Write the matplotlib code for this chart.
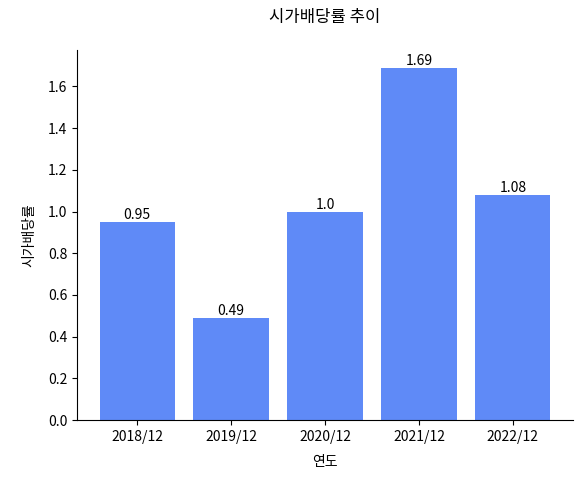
import matplotlib
matplotlib.use("Agg")
import matplotlib.pyplot as plt

plt.rcParams['font.family'] = ['Noto Sans CJK KR', 'DejaVu Sans']

years = ["2018/12", "2019/12", "2020/12", "2021/12", "2022/12"]
yields = [0.95, 0.49, 1.0, 1.69, 1.08]

fig = plt.figure(figsize=(5.82, 4.79), dpi=100)
ax = fig.add_axes([77 / 582, 59 / 479, 496 / 582, 370 / 479])

bars = ax.bar(years, yields, color='#5f8af7', width=0.8)
for b, v in zip(bars, yields):
    ax.text(b.get_x() + b.get_width() / 2, v, str(v), ha='center', va='bottom', fontsize=10)

ax.set_ylim(0, 1.775)
ax.set_yticks([0.0, 0.2, 0.4, 0.6, 0.8, 1.0, 1.2, 1.4, 1.6])
ax.spines['top'].set_visible(False)
ax.spines['right'].set_visible(False)
ax.tick_params(labelsize=10)
ax.set_title("시가배당률 추이", fontsize=12, pad=20)
ax.set_xlabel("연도", fontsize=10, labelpad=8)
ax.set_ylabel("시가배당률", fontsize=10, labelpad=8)

fig.savefig("out.png", dpi=100)
